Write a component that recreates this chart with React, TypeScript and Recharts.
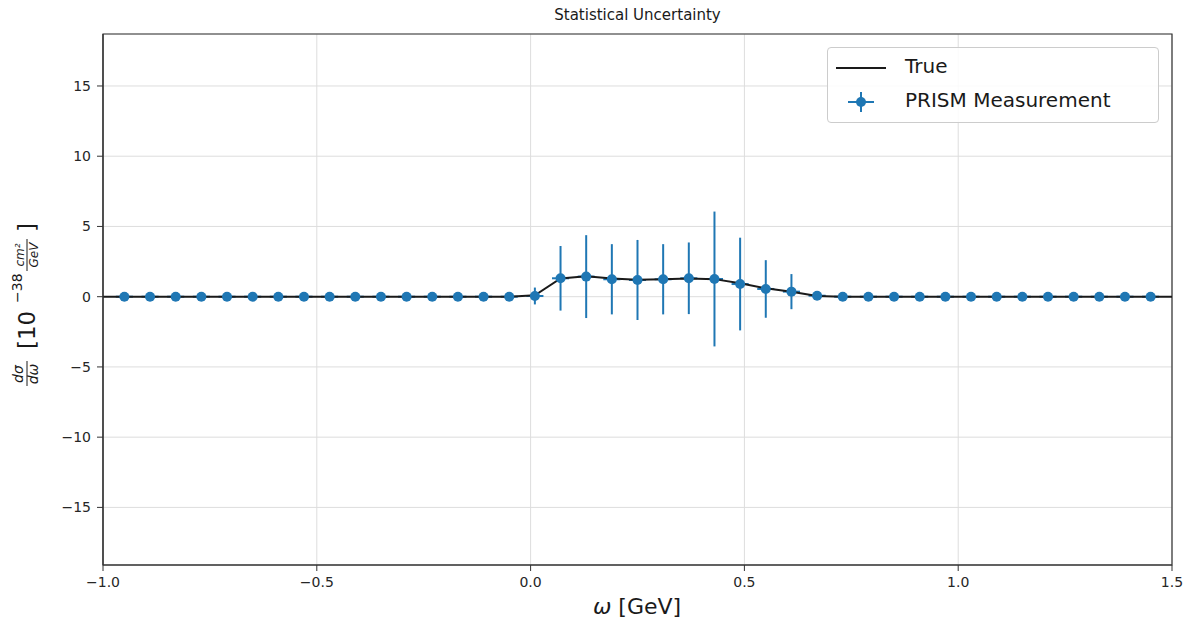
import {
  ComposedChart,
  Line,
  Scatter,
  ErrorBar,
  XAxis,
  YAxis,
  CartesianGrid,
  ReferenceArea,
} from "recharts";

// bin centres of the PRISM measurement [GeV]
const omega = [
  -0.95, -0.89, -0.83, -0.77, -0.71, -0.65, -0.59, -0.53, -0.47, -0.41, -0.35,
  -0.29, -0.23, -0.17, -0.11, -0.05, 0.01, 0.07, 0.13, 0.19, 0.25, 0.31, 0.37,
  0.43, 0.49, 0.55, 0.61, 0.67, 0.73, 0.79, 0.85, 0.91, 0.97, 1.03, 1.09, 1.15,
  1.21, 1.27, 1.33, 1.39, 1.45,
];
const measured = [
  0, 0, 0, 0, 0, 0, 0, 0, 0, 0, 0, 0, 0, 0, 0, 0, 0.05, 1.31, 1.43, 1.24, 1.19,
  1.24, 1.31, 1.26, 0.9, 0.55, 0.36, 0.07, 0, 0, 0, 0, 0, 0, 0, 0, 0, 0, 0, 0, 0,
];
const statErr = [
  0, 0, 0, 0, 0, 0, 0, 0, 0, 0, 0, 0, 0, 0, 0, 0, 0.6, 2.3, 2.95, 2.5, 2.85,
  2.5, 2.55, 4.8, 3.3, 2.05, 1.25, 0.3, 0, 0, 0, 0, 0, 0, 0, 0.15, 0, 0, 0, 0, 0,
];
const binHalfWidth = 0.02;

// true cross section
const trueOmega = [
  -1.0, -0.05, 0.01, 0.07, 0.13, 0.19, 0.25, 0.31, 0.37, 0.43, 0.49, 0.55, 0.61,
  0.67, 0.73, 1.5,
];
const trueXsec = [
  0, 0, 0.1, 1.3, 1.45, 1.3, 1.2, 1.25, 1.3, 1.25, 0.95, 0.6, 0.35, 0.05, 0, 0,
];

const xTicks = [-1.0, -0.5, 0.0, 0.5, 1.0, 1.5];
const yTicks = [-15, -10, -5, 0, 5, 10, 15];

const BLUE = "#1f77b4";
const FONT = "'DejaVu Sans', sans-serif";

const data = omega.map((w, i) => ({
  omega: w,
  xsec: measured[i],
  yerr: statErr[i],
  xerr: binHalfWidth,
}));
const trueData = trueOmega.map((w, i) => ({ omega: w, truth: trueXsec[i] }));

function YLabel() {
  // d sigma / d omega [10^{-38 cm^2/GeV}], rotated
  return (
    <g transform="translate(35, 0) rotate(-90)" fontFamily={FONT} fill="#1a1a1a">
      <text x={-374} y={-12} fontSize={14} fontStyle="italic" textAnchor="middle">
        dσ
      </text>
      <line x1={-386} x2={-361} y1={-8} y2={-8} stroke="#1a1a1a" strokeWidth={1} />
      <text x={-374} y={3} fontSize={14} fontStyle="italic" textAnchor="middle">
        dω
      </text>
      <text x={-349} y={0} fontSize={23}>
        [10
      </text>
      <text x={-303} y={-13} fontSize={14}>
        −38
      </text>
      <text x={-255} y={-11} fontSize={12} fontStyle="italic" textAnchor="middle">
        cm²
      </text>
      <line x1={-271} x2={-239} y1={-8} y2={-8} stroke="#1a1a1a" strokeWidth={1} />
      <text x={-255} y={3} fontSize={12} fontStyle="italic" textAnchor="middle">
        GeV
      </text>
      <text x={-232} y={0} fontSize={23}>
        ]
      </text>
    </g>
  );
}

function XLabel() {
  return (
    <text x={637} y={614} fontFamily={FONT} fontSize={22} fill="#1a1a1a" textAnchor="middle">
      <tspan fontStyle="italic">ω</tspan> [GeV]
    </text>
  );
}

function LegendBox() {
  return (
    <div
      style={{
        position: "absolute",
        left: 827,
        top: 47,
        width: 330,
        height: 74,
        background: "rgba(255,255,255,0.85)",
        border: "1px solid #cccccc",
        borderRadius: 4,
        fontFamily: FONT,
        fontSize: 20,
        color: "#1a1a1a",
      }}
    >
      <svg width={80} height={74} style={{ position: "absolute", left: 0, top: 0 }}>
        <line x1={8} x2={58} y1={20} y2={20} stroke="#1a1a1a" strokeWidth={2} />
        <line x1={20} x2={46} y1={54} y2={54} stroke={BLUE} strokeWidth={2} />
        <line x1={33} x2={33} y1={44} y2={64} stroke={BLUE} strokeWidth={2} />
        <circle cx={33} cy={54} r={5} fill={BLUE} />
      </svg>
      <div style={{ position: "absolute", left: 77, top: 6 }}>True</div>
      <div style={{ position: "absolute", left: 77, top: 40 }}>PRISM Measurement</div>
    </div>
  );
}

export default function App() {
  return (
    <div style={{ position: "absolute", left: 0, top: 0, width: 1184, height: 622, background: "#fff" }}>
      <div
        style={{
          position: "absolute",
          left: 0,
          width: 1275,
          top: 6,
          textAlign: "center",
          fontFamily: FONT,
          fontSize: 15,
          color: "#1a1a1a",
        }}
      >
        Statistical Uncertainty
      </div>
      <ComposedChart
        width={1184}
        height={622}
        data={data}
        margin={{ top: 34, right: 12, bottom: 27, left: 43 }}
      >
        <CartesianGrid stroke="#dddddd" strokeWidth={1} />
        <XAxis
          dataKey="omega"
          type="number"
          domain={[-1.0, 1.5]}
          ticks={xTicks}
          allowDataOverflow
          tickFormatter={(v) => v.toFixed(1).replace("-", "−")}
          tick={{ fill: "#262626", fontSize: 14, fontFamily: FONT }}
          tickLine={{ stroke: "#333" }}
          tickSize={6}
          tickMargin={6}
          axisLine={{ stroke: "#333", strokeWidth: 1.2 }}
          height={30}
          label={<XLabel />}
        />
        <YAxis
          type="number"
          domain={[-19.1, 18.7]}
          ticks={yTicks}
          allowDataOverflow
          tickFormatter={(v) => String(v).replace("-", "−")}
          tick={{ fill: "#262626", fontSize: 14, fontFamily: FONT }}
          tickLine={{ stroke: "#333" }}
          tickSize={6}
          tickMargin={6}
          axisLine={{ stroke: "#333", strokeWidth: 1.2 }}
          width={60}
          label={<YLabel />}
        />
        <ReferenceArea
          x1={-1.0}
          x2={1.5}
          y1={-19.1}
          y2={18.7}
          fill="none"
          stroke="#333"
          strokeWidth={1.2}
          fillOpacity={0}
        />
        <Scatter dataKey="xsec" isAnimationActive={false} shape={() => <g />}>
          <ErrorBar dataKey="yerr" direction="y" width={0} stroke={BLUE} strokeWidth={2} />
          <ErrorBar dataKey="xerr" direction="x" width={0} stroke={BLUE} strokeWidth={2} />
        </Scatter>
        <Line
          data={trueData}
          dataKey="truth"
          stroke="#1a1a1a"
          strokeWidth={2}
          dot={false}
          isAnimationActive={false}
          type="linear"
        />
        <Scatter
          dataKey="xsec"
          isAnimationActive={false}
          shape={(p: any) => <circle cx={p.cx} cy={p.cy} r={5} fill={BLUE} />}
        />
      </ComposedChart>
      <LegendBox />
    </div>
  );
}
